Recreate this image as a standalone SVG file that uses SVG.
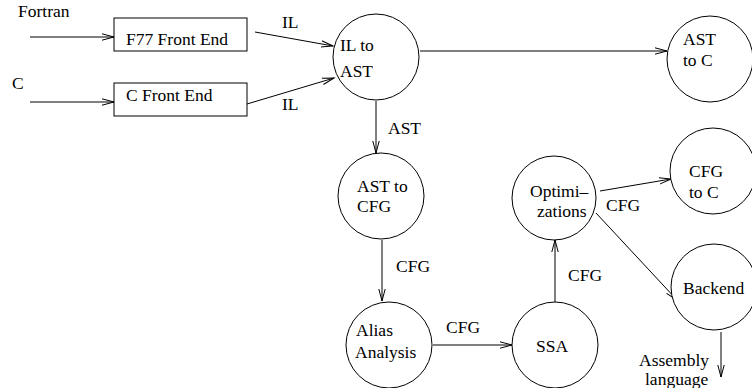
<svg xmlns="http://www.w3.org/2000/svg" width="752" height="388" viewBox="0 0 752 388">
<style>
text{font-family:"Liberation Serif","Times New Roman",serif;font-size:17.5px;fill:#000}
.n{fill:#fff;stroke:#000;stroke-width:1}
.e{fill:none;stroke:#000;stroke-width:1;marker-end:url(#ah)}
</style>
<defs>
<marker id="ah" markerUnits="userSpaceOnUse" markerWidth="14" markerHeight="10" refX="12" refY="4" orient="auto" viewBox="0 0 14 8">
<polyline points="0,0.8 12,4 0,7.2" fill="none" stroke="#000" stroke-width="1"/>
</marker>
</defs>
<rect width="752" height="388" fill="#fff"/>
<g id="connectors">
<line class="e" x1="30" y1="37" x2="114" y2="37"/>
<line class="e" x1="30" y1="102" x2="114" y2="102"/>
<line class="e" x1="255" y1="32" x2="333" y2="46"/>
<line class="e" x1="247" y1="104" x2="334" y2="78"/>
<line class="e" x1="420" y1="51" x2="667" y2="51"/>
<line class="e" x1="376" y1="101" x2="376" y2="153"/>
<line class="e" x1="382" y1="240" x2="382" y2="301"/>
<line class="e" x1="433" y1="345" x2="512" y2="345"/>
<line class="e" x1="555" y1="302" x2="555" y2="240"/>
<line class="e" x1="600" y1="191" x2="671" y2="179"/>
<line class="e" x1="596" y1="213" x2="677" y2="300"/>
<line class="e" x1="721" y1="332" x2="721" y2="377"/>
<text x="282" y="28">IL</text>
<text x="282" y="110">IL</text>
<text x="388" y="134">AST</text>
<text x="396" y="272">CFG</text>
<text x="446" y="333">CFG</text>
<text x="568" y="281">CFG</text>
<text x="606" y="211">CFG</text>
</g>
<g id="fortran"><text x="18" y="17">Fortran</text></g>
<g id="c"><text x="12" y="89">C</text></g>
<g id="f77"><rect class="n" x="114" y="18" width="133" height="33"/><text x="126" y="45">F77 Front End</text></g>
<g id="cfe"><rect class="n" x="114" y="83" width="133" height="33"/><text x="126" y="101">C Front End</text></g>
<g id="il2ast"><circle class="n" cx="376" cy="57" r="43"/><text x="340" y="51">IL to</text><text x="340" y="77">AST</text></g>
<g id="ast2c"><circle class="n" cx="710" cy="59" r="43"/><text x="683" y="45">AST</text><text x="683" y="66">to C</text></g>
<g id="ast2cfg"><circle class="n" cx="381" cy="196" r="43"/><text x="357" y="192">AST to</text><text x="357" y="212">CFG</text></g>
<g id="opt"><circle class="n" cx="554" cy="198" r="42"/><text x="530" y="197">Optimi–</text><text x="537" y="217">zations</text></g>
<g id="cfg2c"><circle class="n" cx="713" cy="171" r="43"/><text x="689" y="177">CFG</text><text x="689" y="198">to C</text></g>
<g id="backend"><circle class="n" cx="714" cy="287" r="43"/><text x="683" y="294">Backend</text></g>
<g id="alias"><circle class="n" cx="389" cy="345" r="43"/><text x="356" y="336">Alias</text><text x="355" y="358">Analysis</text></g>
<g id="ssa"><circle class="n" cx="555" cy="345" r="43"/><text x="536" y="352">SSA</text></g>
<g id="asm"><text x="639" y="366">Assembly</text><text x="645" y="385">language</text></g>
</svg>
